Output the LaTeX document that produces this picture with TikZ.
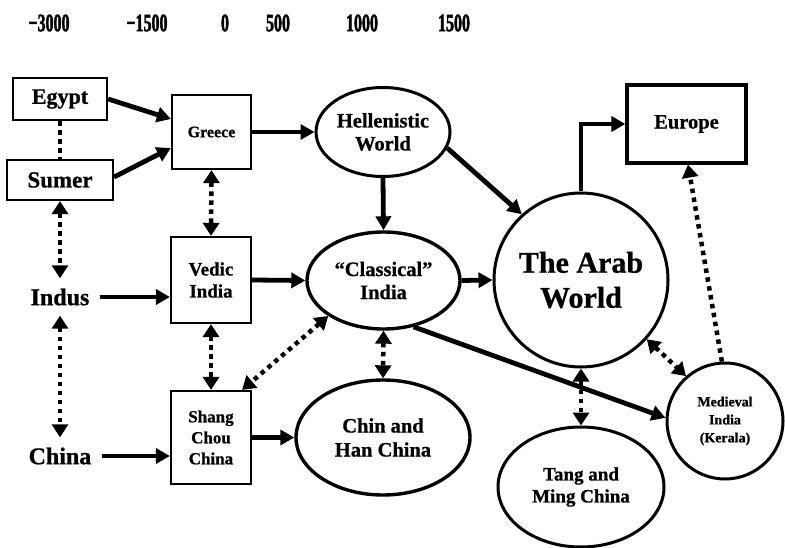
\documentclass[tikz,border=0pt]{standalone}
\usepackage{fontspec}
\setmainfont{Liberation Serif}[BoldFeatures={FakeBold=0.8}]
\newfontfamily\eranum{Liberation Serif Bold}[FakeBold=2.2]
\usetikzlibrary{arrows.meta,shapes.geometric}
\newcommand\fsz[2]{\fontsize{#1}{#2}\selectfont\bfseries}
\begin{document}
\begin{tikzpicture}[x=1pt,y=-1pt,
  txt/.style={align=center,inner sep=0pt},
  box/.style={txt,draw,rectangle,line width=2.2pt},
  oval/.style={txt,draw,ellipse,line width=3pt},
  rnd/.style={txt,draw,circle,line width=3pt},
  era/.style={inner sep=0pt,font=\eranum\fontsize{25}{27}\selectfont},
  flow/.style={line width=4.8pt,-{Triangle[length=14pt,width=15pt]}},
  link/.style={line width=4.5pt,dash pattern=on 4.5pt off 4.5pt},
  both/.style={link,{Triangle[length=13pt,width=16pt]}-{Triangle[length=13pt,width=16pt]}},
  one/.style={link,-{Triangle[length=13pt,width=16pt]}}]
\useasboundingbox (0,0) rectangle (785,548);

% time scale along the top
\node[era] (t1) at (49,23)  {\scalebox{0.64}[1]{−3000}};
\node[era] (t2) at (147,23) {\scalebox{0.64}[1]{−1500}};
\node[era] (t3) at (225,23) {\scalebox{0.64}[1]{0}};
\node[era] (t4) at (278,23) {\scalebox{0.64}[1]{500}};
\node[era] (t5) at (362,23) {\scalebox{0.64}[1]{1000}};
\node[era] (t6) at (454,23) {\scalebox{0.64}[1]{1500}};

% ancient sources
\node[box,minimum width=94pt,minimum height=42pt,font=\fsz{22}{25}] (egypt) at (60,99) {Egypt};
\node[box,minimum width=106pt,minimum height=40pt,font=\fsz{23}{26}] (sumer) at (60,180) {Sumer};
\node[txt,inner sep=10pt,font=\fsz{24}{27}] (indus) at (60,297) {Indus};
\node[txt,inner sep=10pt,font=\fsz{24}{27}] (china) at (60,456) {China};

% early cultures
\node[box,minimum width=79pt,minimum height=74pt,font=\fsz{16}{19}] (greece) at (211.5,132) {Greece};
\node[box,minimum width=80pt,minimum height=86pt,font=\fsz{19}{22}] (vedic) at (211,280) {Vedic\\India};
\node[box,minimum width=80pt,minimum height=93pt,font=\fsz{17}{21}] (shang) at (211,437.5) {Shang\\Chou\\China};

% classical age
\node[oval,minimum width=134pt,minimum height=89pt,font=\fsz{20.5}{23}] (hell) at (383,132) {Hellenistic\\World};
\node[oval,line width=3.4pt,minimum width=153pt,minimum height=97pt,font=\fsz{20.5}{23}] (classic) at (383.5,280.5) {“Classical”\\India};
\node[oval,line width=3.4pt,minimum width=174pt,minimum height=115pt,font=\fsz{20.5}{24}] (chinhan) at (383,437.5) {Chin and\\Han China};

% medieval period
\node[rnd,minimum size=174pt,font=\fsz{30}{35}] (arab) at (581,280) {The Arab\\World};
\node[oval,minimum width=166pt,minimum height=120pt,font=\fsz{19}{22}] (tang) at (581,487) {Tang and\\Ming China};
\node[rnd,minimum size=116pt,font=\fsz{14}{18}] (kerala) at (725,421) {Medieval\\India\\(Kerala)};
\node[box,line width=3.2pt,minimum width=119pt,minimum height=78pt,font=\fsz{20.5}{23}] (europe) at (686.5,124) {Europe};

% transmission
\draw[flow] (egypt.east) -- ([yshift=13pt]greece.west);
\draw[flow] ([yshift=3pt]sumer.east) -- ([yshift=-16pt]greece.west);
\draw[flow] (indus.east) -- (indus.east -| vedic.west);
\draw[flow] (china.east) -- (china.east -| shang.west);
\draw[flow] (greece.east) -- (hell.west);
\draw[flow] (vedic.east) -- (classic.west);
\draw[flow] (shang.east) -- (chinhan.west);
\draw[flow] (hell.south) -- (classic.north);
\draw[flow] (hell.-14) -- (arab.132);
\draw[flow] (classic.east) -- (arab.west);
\draw[flow] (classic.-57) -- (kerala.177);
\draw[flow] (arab.north) |- (europe.west);

% contacts
\draw[link] (egypt.south) -- (sumer.north);
\draw[both] (sumer.south) -- (indus.north);
\draw[both] (indus.south) -- (china.north);
\draw[both] (greece.south) -- (vedic.north);
\draw[both] (vedic.south) -- (shang.north);
\draw[both] (classic.south west) -- ([xshift=-10pt]shang.north east);
\draw[both] (classic.south) -- (chinhan.north);
\draw[both] (arab.south) -- (tang.north);
\draw[both] (arab.-42) -- (kerala.131);
\draw[one] (kerala.93) -- ([xshift=1.5pt]europe.south);
\end{tikzpicture}
\end{document}
